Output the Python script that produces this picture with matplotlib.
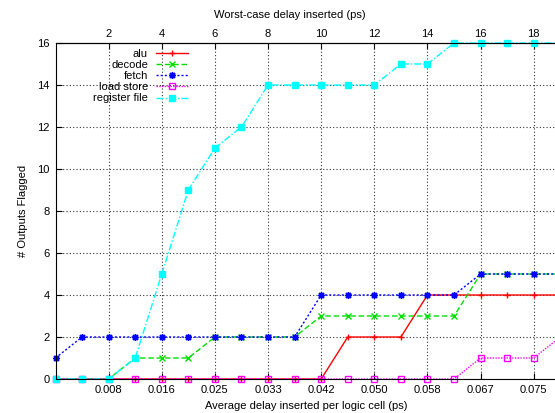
import matplotlib
matplotlib.use("Agg")
import matplotlib.pyplot as plt

plt.rcParams['font.family'] = ['Liberation Sans', 'DejaVu Sans']
plt.rcParams['font.size'] = 8

# worst-case delay inserted (ps), one point per step
delay = list(range(20))

alu = [0, 0, 0, 0, 0, 0, 0, 0, 0, 0, 0, 2, 2, 2, 4, 4, 4, 4, 4, 4]
decode = [0, 0, 0, 1, 1, 1, 2, 2, 2, 2, 3, 3, 3, 3, 3, 3, 5, 5, 5, 5]
fetch = [1, 2, 2, 2, 2, 2, 2, 2, 2, 2, 4, 4, 4, 4, 4, 4, 5, 5, 5, 5]
load_store = [0, 0, 0, 0, 0, 0, 0, 0, 0, 0, 0, 0, 0, 0, 0, 0, 1, 1, 1, 2]
register_file = [0, 0, 0, 1, 5, 9, 11, 12, 14, 14, 14, 14, 14, 15, 15, 16, 16, 16, 16, 16]

top_ticks = [2, 4, 6, 8, 10, 12, 14, 16, 18]
bottom_labels = ['0.008', '0.016', '0.025', '0.033', '0.042',
                 '0.050', '0.058', '0.067', '0.075']
y_ticks = [0, 2, 4, 6, 8, 10, 12, 14, 16]

fig = plt.figure(figsize=(5.55, 4.13), dpi=100)
ax = fig.add_axes([0.1, 0.0823, 0.9, 0.8136])

ax.plot(delay, alu, color='#ff0000', ls='-', lw=1, marker='+', ms=5,
        label='alu', clip_on=False)
ax.plot(delay, decode, color='#00e000', ls=(0, (4, 2)), lw=1, marker='x', ms=4,
        label='decode', clip_on=False)
ax.plot(delay, fetch, color='#0000ff', ls=(0, (1.5, 1.5)), lw=1, marker=(8, 2, 0), ms=5,
        label='fetch', clip_on=False)
ax.plot(delay, load_store, color='#ff00ff', ls=(0, (1, 1)), lw=1, marker='s', ms=4,
        mfc='none', label='load store', clip_on=False)
ax.plot(delay, register_file, color='#00ffff', ls=(0, (5, 1.5, 1, 1.5)), lw=1,
        marker='s', ms=4.5, label='register file', clip_on=False)

ax.set_xlim(0, 18.8)
ax.set_ylim(0, 16)
ax.spines['right'].set_visible(False)

ax.set_xticks(top_ticks)
ax.set_xticklabels(bottom_labels)
ax.set_yticks(y_ticks)
ax.tick_params(direction='in', length=4, width=0.8, pad=4)
ax.grid(True, ls=(0, (1, 2)), color='#333333', lw=0.8)

top = ax.secondary_xaxis('top')
top.set_xticks(top_ticks)
top.tick_params(direction='in', length=4, width=0.8, pad=3)
fig.text(290 / 555, 1 - 15 / 413, 'Worst-case delay inserted (ps)',
         ha='center', va='center')

ax.set_xlabel('Average delay inserted per logic cell (ps)')
ax.xaxis.set_label_coords(0.503, -0.065)
ax.set_ylabel('# Outputs Flagged')
ax.yaxis.set_label_coords(-0.055, 0.5)

leg = ax.legend(loc='upper left', bbox_to_anchor=(93 / 555, 1 - 49 / 413),
                bbox_transform=fig.transFigure, frameon=False, markerfirst=False,
                borderpad=0, borderaxespad=0, handlelength=2.9, handletextpad=0.7,
                labelspacing=0.1, fontsize=8)

fig.savefig('out.png', dpi=100)
